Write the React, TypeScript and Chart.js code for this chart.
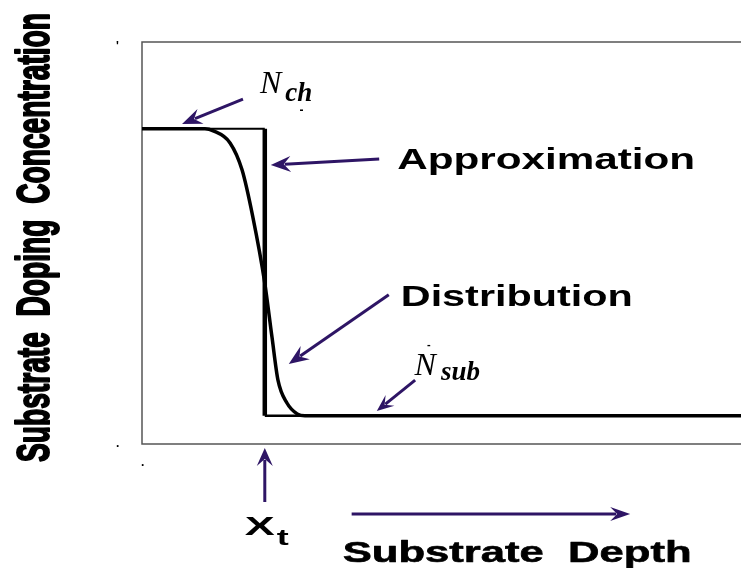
import React, { useEffect, useRef } from "react";
import { Chart, registerables } from "chart.js";

Chart.register(...registerables);

// ---- data (depth in % of plotted range, concentration in % of plotted range)
const approxDepth = [0, 20.5, 20.5, 100];
const approxConc = [78.4, 78.4, 7.0, 7.0];
const distDepth = [0, 10.5, 11.9, 14.7, 16.7, 18.5, 20.5, 21.7, 22.7, 24.2, 25.9, 27.2, 100];
const distConc = [78.4, 78.4, 77.9, 74.9, 68.2, 56.5, 40.0, 26.6, 15.9, 10.2, 7.5, 7.0, 7.0];

const yTitle = "Substrate  Doping  Concentration";
const xTitle = "Substrate  Depth";
const approxLabel = "Approximation";
const distLabel = "Distribution";

const ARROW = "#2e1565";

function drawArrow(ctx: CanvasRenderingContext2D, x1: number, y1: number, x2: number, y2: number, lw = 3, L = 20, W = 8) {
  const dx = x2 - x1, dy = y2 - y1;
  const len = Math.hypot(dx, dy);
  const ux = dx / len, uy = dy / len;
  const px = -uy, py = ux;
  ctx.save();
  ctx.strokeStyle = ARROW;
  ctx.fillStyle = ARROW;
  ctx.lineWidth = lw;
  ctx.lineCap = "butt";
  ctx.beginPath();
  ctx.moveTo(x1, y1);
  ctx.lineTo(x2 - ux * (L - 6), y2 - uy * (L - 6));
  ctx.stroke();
  ctx.beginPath();
  ctx.moveTo(x2, y2);
  ctx.lineTo(x2 - ux * L + px * W, y2 - uy * L + py * W);
  ctx.lineTo(x2 - ux * (L - 7), y2 - uy * (L - 7));
  ctx.lineTo(x2 - ux * L - px * W, y2 - uy * L - py * W);
  ctx.closePath();
  ctx.fill();
  ctx.restore();
}

function fitText(ctx: CanvasRenderingContext2D, text: string, x: number, y: number, font: string, width: number, thicken = 0) {
  ctx.save();
  ctx.font = font;
  ctx.fillStyle = "#000";
  ctx.strokeStyle = "#000";
  ctx.textBaseline = "alphabetic";
  ctx.textAlign = "left";
  const w = ctx.measureText(text).width;
  ctx.translate(x, y);
  ctx.scale(width / w, 1);
  ctx.fillText(text, 0, 0);
  if (thicken > 0) {
    ctx.lineWidth = thicken;
    ctx.lineJoin = "round";
    ctx.strokeText(text, 0, 0);
  }
  ctx.restore();
}

function plainText(ctx: CanvasRenderingContext2D, text: string, x: number, y: number, font: string) {
  ctx.save();
  ctx.font = font;
  ctx.fillStyle = "#000";
  ctx.textBaseline = "alphabetic";
  ctx.textAlign = "left";
  ctx.fillText(text, x, y);
  ctx.restore();
}

const annotationPlugin = {
  id: "annotations",
  beforeDatasetsDraw(chart: any) {
    const { ctx, chartArea } = chart;
    ctx.save();
    ctx.strokeStyle = "#555";
    ctx.lineWidth = 1.5;
    ctx.beginPath();
    ctx.moveTo(chartArea.right + 2, chartArea.top);
    ctx.lineTo(chartArea.left, chartArea.top);
    ctx.lineTo(chartArea.left, chartArea.bottom);
    ctx.lineTo(chartArea.right + 2, chartArea.bottom);
    ctx.stroke();
    ctx.restore();
  },
  afterDatasetsDraw(chart: any) {
    const { ctx, chartArea } = chart;
    const xs = chart.scales.x;
    const ys = chart.scales.y;
    const X = (v: number) => xs.getPixelForValue(v);
    const Y = (v: number) => ys.getPixelForValue(v);

    // arrows inside plot
    drawArrow(ctx, X(16.86), Y(85.8), X(6.68), Y(79.6));
    drawArrow(ctx, X(39.6), Y(70.9), X(21.5), Y(69.4));
    drawArrow(ctx, X(41.2), Y(37.1), X(24.5), Y(19.9));
    drawArrow(ctx, X(45.6), Y(15.9), X(39.2), Y(8.2), 3, 17, 7);

    // labels inside plot
    plainText(ctx, "N", X(19.7), Y(87.3), "italic 32px 'Liberation Serif'");
    plainText(ctx, "ch", X(23.9), Y(85.3), "italic bold 27px 'Liberation Serif'");
    plainText(ctx, "-", X(26.3), Y(82.0), "bold 12px 'Liberation Sans'");
    fitText(ctx, approxLabel, X(42.6), Y(68.4), "bold 29px 'Liberation Sans'", 298);
    fitText(ctx, distLabel, X(43.2), Y(34.3), "bold 29px 'Liberation Sans'", 232);
    plainText(ctx, "N", X(45.5), Y(17.2), "italic 32px 'Liberation Serif'");
    plainText(ctx, "sub", X(49.9), Y(16.0), "italic bold 27px 'Liberation Serif'");
    plainText(ctx, "-", X(47.6), Y(24.0), "bold 11px 'Liberation Sans'");

    // x-axis annotations
    const stepX = X(approxDepth[1]);
    drawArrow(ctx, stepX, chartArea.bottom + 58, stepX, chartArea.bottom + 4, 3, 18, 8);
    fitText(ctx, "X", stepX - 20, chartArea.bottom + 91, "bold 25px 'Liberation Sans'", 30);
    fitText(ctx, "t", stepX + 12, chartArea.bottom + 101, "bold 22px 'Liberation Sans'", 12);
    drawArrow(ctx, X(35.0), chartArea.bottom + 70, X(81.5), chartArea.bottom + 70, 3, 20, 7);
    fitText(ctx, xTitle, X(33.5), chartArea.bottom + 118, "bold 29px 'Liberation Sans'", 349, 0.6);

    // y-axis title
    ctx.save();
    ctx.translate(chartArea.left - 93, chartArea.bottom + 18);
    ctx.rotate(-Math.PI / 2);
    fitText(ctx, yTitle, 0, 0, "bold 46px 'Liberation Sans'", 449, 2);
    ctx.restore();

    // small stray marks
    plainText(ctx, "'", chartArea.left - 26, chartArea.top + 8, "bold 12px 'Liberation Sans'");
    plainText(ctx, ".", chartArea.left - 26, chartArea.bottom + 3, "bold 12px 'Liberation Sans'");
    plainText(ctx, ".", chartArea.left - 1, chartArea.bottom + 22, "bold 12px 'Liberation Sans'");
  },
};

export default function App() {
  const ref = useRef<HTMLCanvasElement | null>(null);
  useEffect(() => {
    if (!ref.current) return;
    const chart = new Chart(ref.current, {
      type: "line",
      data: {
        datasets: [
          {
            label: approxLabel,
            data: approxDepth.map((x, i) => ({ x, y: approxConc[i] })),
            borderColor: "#000",
            borderWidth: 2.5,
            pointRadius: 0,
            tension: 0,
            fill: false,
            segment: {
              borderWidth: (c: any) => (c.p0DataIndex === 1 ? 4.5 : c.p0DataIndex === 0 ? 2 : 2.5),
            },
          } as any,
          {
            label: distLabel,
            data: distDepth.map((x, i) => ({ x, y: distConc[i] })),
            borderColor: "#000",
            borderWidth: 3.5,
            pointRadius: 0,
            cubicInterpolationMode: "monotone",
            fill: false,
          },
        ],
      },
      options: {
        animation: false,
        responsive: false,
        devicePixelRatio: 1,
        layout: { padding: { left: 142, top: 42, right: 0, bottom: 124 } },
        plugins: { legend: { display: false }, tooltip: { enabled: false } },
        scales: {
          x: { type: "linear", min: 0, max: 100, display: false },
          y: { type: "linear", min: 0, max: 100, display: false },
        },
        elements: { line: { borderJoinStyle: "miter" } },
      } as any,
      plugins: [annotationPlugin],
    });
    return () => chart.destroy();
  }, []);
  return (
    <div style={{ position: "absolute", left: 0, top: 0, width: 741, height: 568, background: "#fff" }}>
      <canvas ref={ref} width={741} height={568} style={{ display: "block" }} />
    </div>
  );
}
